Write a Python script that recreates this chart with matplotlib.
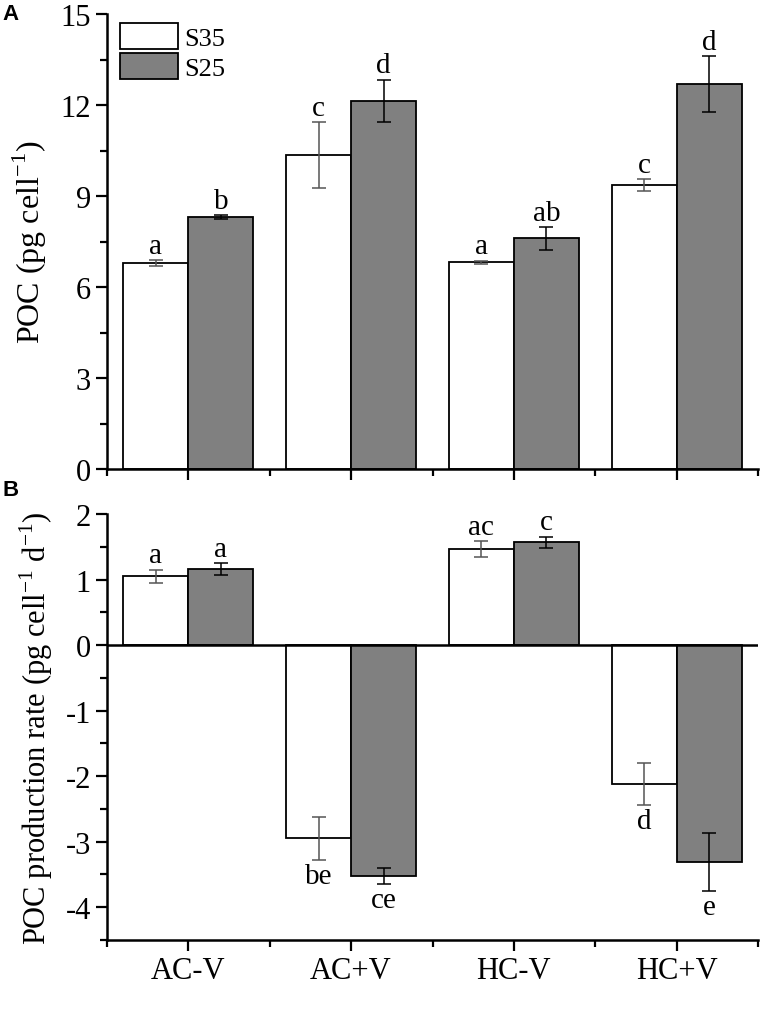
import numpy as np
import matplotlib.pyplot as plt
from matplotlib.ticker import MultipleLocator

plt.rcParams['font.family'] = ['Liberation Serif', 'DejaVu Serif']
plt.rcParams['axes.unicode_minus'] = False
plt.rcParams['mathtext.fontset'] = 'custom'
plt.rcParams['mathtext.rm'] = 'Liberation Serif'

groups = ['AC-V', 'AC+V', 'HC-V', 'HC+V']

# panel A: POC content
poc_s35 = [6.79, 10.36, 6.82, 9.35]
poc_s35_err = [0.10, 1.08, 0.05, 0.20]
poc_s25 = [8.30, 12.14, 7.60, 12.68]
poc_s25_err = [0.07, 0.70, 0.38, 0.92]
poc_s35_lab = ['a', 'c', 'a', 'c']
poc_s25_lab = ['b', 'd', 'ab', 'd']

# panel B: POC production rate
rate_s35 = [1.05, -2.95, 1.47, -2.12]
rate_s35_err = [0.10, 0.33, 0.12, 0.32]
rate_s25 = [1.16, -3.52, 1.57, -3.31]
rate_s25_err = [0.085, 0.12, 0.085, 0.44]
rate_s35_lab = ['a', 'be', 'ac', 'd']
rate_s25_lab = ['a', 'ce', 'c', 'e']

W, H = 762, 1020
fig = plt.figure(figsize=(W / 100, H / 100), dpi=100)
axA = fig.add_axes([107 / W, 1 - 470 / H, 651 / W, 455 / H])
axB = fig.add_axes([107 / W, 1 - 941 / H, 651 / W, 426 / H])

x = np.arange(len(groups))
bw = 0.4


def draw(ax, v1, e1, v2, e2, l1, l2):
    ax.bar(x - bw / 2, v1, bw, color='white', edgecolor='black', linewidth=1.3, label='S35', zorder=2)
    ax.bar(x + bw / 2, v2, bw, color='#808080', edgecolor='black', linewidth=1.3, label='S25', zorder=2)
    ax.errorbar(x - bw / 2, v1, yerr=e1, fmt='none', ecolor='#555555', elinewidth=1.1, capsize=5, capthick=1.1, zorder=3)
    ax.errorbar(x + bw / 2, v2, yerr=e2, fmt='none', ecolor='black', elinewidth=1.1, capsize=5, capthick=1.1, zorder=3)
    span = ax.get_ylim()[1] - ax.get_ylim()[0]
    for xs, vals, errs, labs in [(x - bw / 2, v1, e1, l1), (x + bw / 2, v2, e2, l2)]:
        for xi, v, e, lab in zip(xs, vals, errs, labs):
            if v >= 0:
                ax.text(xi, v + e + span * 0.003, lab, ha='center', va='bottom', fontsize=21)
            else:
                ax.text(xi, v - e - span * 0.008, lab, ha='center', va='top', fontsize=21)


for ax in (axA, axB):
    ax.set_xlim(-0.5, 3.5)
    ax.spines['top'].set_visible(False)
    ax.spines['right'].set_visible(False)
    ax.spines['left'].set_linewidth(1.8)
    ax.spines['bottom'].set_linewidth(1.8)
    ax.set_xticks(x)
    ax.set_xticks(np.arange(-0.5, 4, 1), minor=True)
    ax.tick_params(axis='both', which='major', direction='out', length=8, width=1.6, labelsize=22)
    ax.tick_params(axis='both', which='minor', direction='out', length=5, width=1.6)

axA.set_ylim(0, 15)
axA.yaxis.set_major_locator(MultipleLocator(3))
axA.yaxis.set_minor_locator(MultipleLocator(1.5))
axA.set_xticklabels([])
draw(axA, poc_s35, poc_s35_err, poc_s25, poc_s25_err, poc_s35_lab, poc_s25_lab)
axA.set_ylabel('POC (pg cell$^{\\mathrm{-1}}$)', fontsize=23, labelpad=8)
axA.legend(loc='upper left', frameon=False, fontsize=19, handlelength=2.2, handleheight=1.15,
           borderaxespad=0.0, bbox_to_anchor=(0.003, 1.003), handletextpad=0.25, labelspacing=0.1)

axB.set_ylim(-4.5, 2)
axB.yaxis.set_major_locator(MultipleLocator(1))
axB.yaxis.set_minor_locator(MultipleLocator(0.5))
axB.set_xticklabels(groups)
draw(axB, rate_s35, rate_s35_err, rate_s25, rate_s25_err, rate_s35_lab, rate_s25_lab)
axB.axhline(0, color='black', linewidth=1.8, zorder=4)
axB.set_ylabel('POC production rate (pg cell$^{\\mathrm{-1}}$ d$^{\\mathrm{-1}}$)', fontsize=22, labelpad=8)

fig.text(2 / W, 1 - 4 / H, 'A', fontsize=16, fontweight='bold', family='Liberation Sans', ha='left', va='top')
fig.text(2 / W, 1 - 480 / H, 'B', fontsize=16, fontweight='bold', family='Liberation Sans', ha='left', va='top')

fig.savefig('out.png', dpi=100)
